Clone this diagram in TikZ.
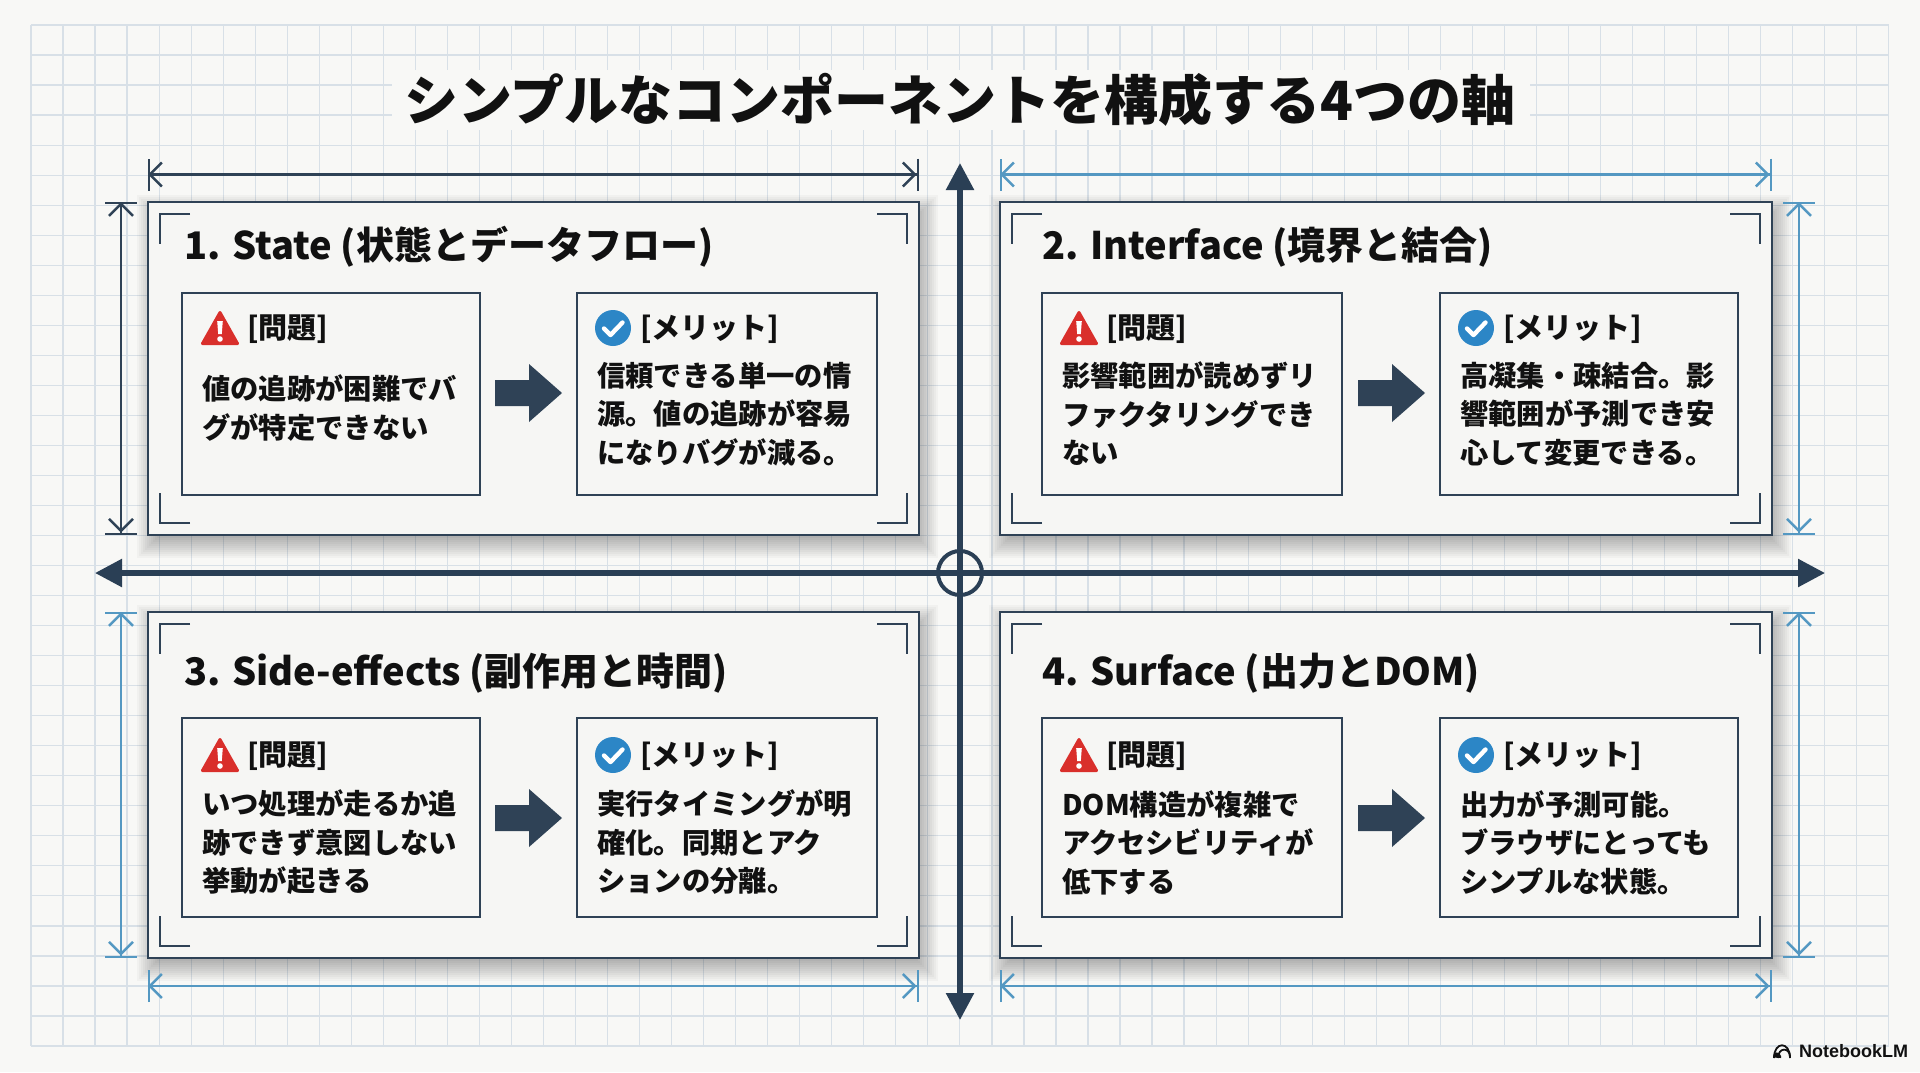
\documentclass[tikz,border=0pt]{standalone}
\usepackage{fontspec}
\setmainfont{Noto Sans CJK JP}
\newfontfamily\nlmfont{Liberation Sans}
\usetikzlibrary{arrows.meta,calc}
\definecolor{pagebg}{HTML}{F8F8F6}
\definecolor{gridc}{HTML}{D8E0E7}
\definecolor{panelbg}{HTML}{F6F6F4}
\definecolor{ink}{HTML}{2F4256}
\definecolor{axisc}{HTML}{2A3F55}
\definecolor{dimblue}{HTML}{5498C2}
\definecolor{warnred}{HTML}{D92F2B}
\definecolor{okblue}{HTML}{2C86C6}
\definecolor{txt}{HTML}{111111}
\tikzset{
  x=1pt,y=-1pt,
  gridline/.style={gridc,line width=1.2pt},
  panelframe/.style={draw=ink,line width=2.7pt,fill=panelbg,inner sep=0pt,outer sep=0pt,anchor=north west},
  infoframe/.style={draw=ink,line width=2.4pt,fill=panelbg,inner sep=0pt,outer sep=0pt,anchor=north west},
  bracket/.style={draw=ink,line width=2.3pt},
  dimdark/.style={ink,line width=2.4pt,dimtips},
  dimlight/.style={dimblue,line width=2.6pt,dimtips},
  dimtips/.style={arrows={{Bar[width=32pt,line width=2.4pt]Straight Barb[length=12pt,width=24pt,line width=2.4pt,sep=-2.2pt]}-{Straight Barb[length=12pt,width=24pt,line width=2.4pt]Bar[width=32pt,line width=2.4pt,sep=0pt]}}},
  axisline/.style={axisc,line width=5.5pt},
  mainhead/.style={txt,font=\fontsize{54}{60}\selectfont\bfseries,anchor=center},
  paneltitle/.style={txt,font=\fontsize{38}{44}\selectfont\bfseries,anchor=west,inner sep=0pt},
  headtext/.style={txt,font=\fontsize{29}{34}\selectfont\bfseries,anchor=west,inner sep=0pt},
  bodytext/.style={txt,font=\fontsize{28.3}{38.5}\selectfont\bfseries,anchor=west,align=left,inner sep=0pt},
}
% name, x0, y0, x1, y1
\newcommand{\panelbox}[5]{%
  \foreach \d in {0,2,...,30}{\fill[black,opacity=0.026] (#2+19-\d,#3+23-\d) rectangle (#4-11+\d,#5-7+\d);}
  \pgfmathsetmacro{\pw}{#4-#2}\pgfmathsetmacro{\ph}{#5-#3}
  \node[panelframe,minimum width=\pw pt,minimum height=\ph pt] (#1) at (#2,#3) {};
  \draw[bracket] (#2+42,#3+12) -- (#2+12,#3+12) -- (#2+12,#3+42);
  \draw[bracket] (#4-42,#3+12) -- (#4-12,#3+12) -- (#4-12,#3+42);
  \draw[bracket] (#2+42,#5-12) -- (#2+12,#5-12) -- (#2+12,#5-42);
  \draw[bracket] (#4-42,#5-12) -- (#4-12,#5-12) -- (#4-12,#5-42);
}
\newcommand{\infobox}[5]{%
  \pgfmathsetmacro{\pw}{#4-#2}\pgfmathsetmacro{\ph}{#5-#3}
  \node[infoframe,minimum width=\pw pt,minimum height=\ph pt] (#1) at (#2,#3) {};
}
\newcommand{\warnicon}[2]{%
  \begin{scope}[shift={(#1,#2)}]
    \fill[warnred,draw=warnred,line width=3pt,line join=round] (0,-15.5) -- (17.5,15.5) -- (-17.5,15.5) -- cycle;
    \fill[white] (-2.8,-7) -- (2.8,-7) -- (1.8,6) -- (-1.8,6) -- cycle;
    \fill[white] (0,11) circle[radius=2.8pt];
  \end{scope}}
\newcommand{\okicon}[2]{%
  \begin{scope}[shift={(#1,#2)}]
    \fill[okblue] (0,0) circle[radius=18pt];
    \draw[white,line width=4.4pt,line cap=round,line join=round] (-9,0.5) -- (-2.5,7) -- (9.5,-5.5);
  \end{scope}}
\newcommand{\blockarrow}[2]{%
  \fill[ink] (#1,#2-13) -- (#1+34,#2-13) -- (#1+34,#2-29) -- (#1+67,#2) -- (#1+34,#2+29) -- (#1+34,#2+13) -- (#1,#2+13) -- cycle;
}
\begin{document}
\begin{tikzpicture}
\useasboundingbox (0,0) rectangle (1920,1072);
\fill[pagebg] (0,0) rectangle (1920,1072);
% grid
\foreach \i in {0,...,58}{\draw[gridline] (31+\i*32.03,25) -- (31+\i*32.03,1046);}
\foreach \i in {0,...,34}{\draw[gridline] (31,25+\i*30.03) -- (1889,25+\i*30.03);}
\fill[pagebg] (392,70) rectangle (1530,130);
\node[mainhead] (maintitle) at (960,100) {シンプルなコンポーネントを構成する4つの軸};
% axes
\coordinate (axisW) at (95,573);
\coordinate (axisE) at (1825,573);
\coordinate (axisN) at (960,163);
\coordinate (axisS) at (960,1020);
% panels
\panelbox{p1}{148}{202}{919}{535}
\panelbox{p2}{1000}{202}{1772}{535}
\panelbox{p3}{148}{612}{919}{958}
\panelbox{p4}{1000}{612}{1772}{958}
\draw[axisline,arrows={Triangle[length=27pt,width=27pt]-Triangle[length=27pt,width=27pt]}] (axisW) -- (axisE);
\draw[axisline,arrows={Triangle[length=27pt,width=27pt]-Triangle[length=27pt,width=27pt]}] (axisN) -- (axisS);
\node[circle,draw=axisc,line width=4pt,minimum size=44pt,inner sep=0pt] (hub) at (960,573) {};
% dimension lines
\draw[dimdark] ([yshift=27.5pt]p1.north west) -- ([yshift=27.5pt]p1.north east);
\draw[dimdark] ([xshift=-27pt]p1.north west) -- ([xshift=-27pt]p1.south west);
\draw[dimlight] ([yshift=27.5pt]p2.north west) -- ([yshift=27.5pt]p2.north east);
\draw[dimlight] ([xshift=27pt]p2.north east) -- ([xshift=27pt]p2.south east);
\draw[dimlight] ([xshift=-27pt]p3.north west) -- ([xshift=-27pt]p3.south west);
\draw[dimlight] ([yshift=-28pt]p3.south west) -- ([yshift=-28pt]p3.south east);
\draw[dimlight] ([xshift=27pt]p4.north east) -- ([xshift=27pt]p4.south east);
\draw[dimlight] ([yshift=-28pt]p4.south west) -- ([yshift=-28pt]p4.south east);
% panel titles
\node[paneltitle] (t1) at (184,247) {1. State (状態とデータフロー)};
\node[paneltitle] (t2) at (1042,247) {2. Interface (境界と結合)};
\node[paneltitle] (t3) at (184,673) {3. Side-effects (副作用と時間)};
\node[paneltitle] (t4) at (1042,673) {4. Surface (出力とDOM)};
% boxes
\infobox{a1}{182}{293}{480}{495}
\infobox{b1}{577}{293}{877}{495}
\infobox{a2}{1042}{293}{1342}{495}
\infobox{b2}{1440}{293}{1738}{495}
\infobox{a3}{182}{718}{480}{917}
\infobox{b3}{577}{718}{877}{917}
\infobox{a4}{1042}{718}{1342}{917}
\infobox{b4}{1440}{718}{1738}{917}
% icons + heads
\warnicon{220}{328}\node[headtext] (ha1) at (247,329) {[問題]};
\okicon{613}{328}\node[headtext] (hb1) at (640,329) {[メリット]};
\warnicon{1079}{328}\node[headtext] (ha2) at (1106,329) {[問題]};
\okicon{1476}{328}\node[headtext] (hb2) at (1503,329) {[メリット]};
\warnicon{220}{755}\node[headtext] (ha3) at (247,756) {[問題]};
\okicon{613}{755}\node[headtext] (hb3) at (640,756) {[メリット]};
\warnicon{1079}{755}\node[headtext] (ha4) at (1106,756) {[問題]};
\okicon{1476}{755}\node[headtext] (hb4) at (1503,756) {[メリット]};
% body
\node[bodytext] (ba1) at (202,408) {値の追跡が困難でバ\\グが特定できない};
\node[bodytext] (bb1) at (597,414) {信頼できる単一の情\\源。値の追跡が容易\\になりバグが減る。};
\node[bodytext] (ba2) at (1062,414) {影響範囲が読めずリ\\ファクタリングでき\\ない};
\node[bodytext] (bb2) at (1460,414) {高凝集・疎結合。影\\響範囲が予測でき安\\心して変更できる。};
\node[bodytext] (ba3) at (202,842.5) {いつ処理が走るか追\\跡できず意図しない\\挙動が起きる};
\node[bodytext] (bb3) at (597,842.5) {実行タイミングが明\\確化。同期とアク\\ションの分離。};
\node[bodytext] (ba4) at (1062,842.5) {DOM構造が複雑で\\アクセシビリティが\\低下する};
\node[bodytext] (bb4) at (1460,842.5) {出力が予測可能。\\ブラウザにとっても\\シンプルな状態。};
% block arrows
\blockarrow{495}{393}
\blockarrow{1358}{393}
\blockarrow{495}{818}
\blockarrow{1358}{818}
% NotebookLM
\begin{scope}[shift={(1782,1058)}]
  \draw[txt,line width=1.8pt] (-8,0) .. controls (-8,-17) and (8,-17) .. (8,0);
  \draw[txt,line width=1.8pt] (-4,0) .. controls (-4,-11) and (8,-11) .. (8,-1);
  \fill[txt] (-9,-0.5) .. controls (-9,-7) and (-2,-7) .. (-1,-2) -- (-1,0) -- cycle;
\end{scope}
\node[txt,font=\nlmfont\bfseries\fontsize{18}{22}\selectfont,anchor=west,inner sep=0pt] (nlm) at (1799,1051) {NotebookLM};
\end{tikzpicture}
\end{document}
